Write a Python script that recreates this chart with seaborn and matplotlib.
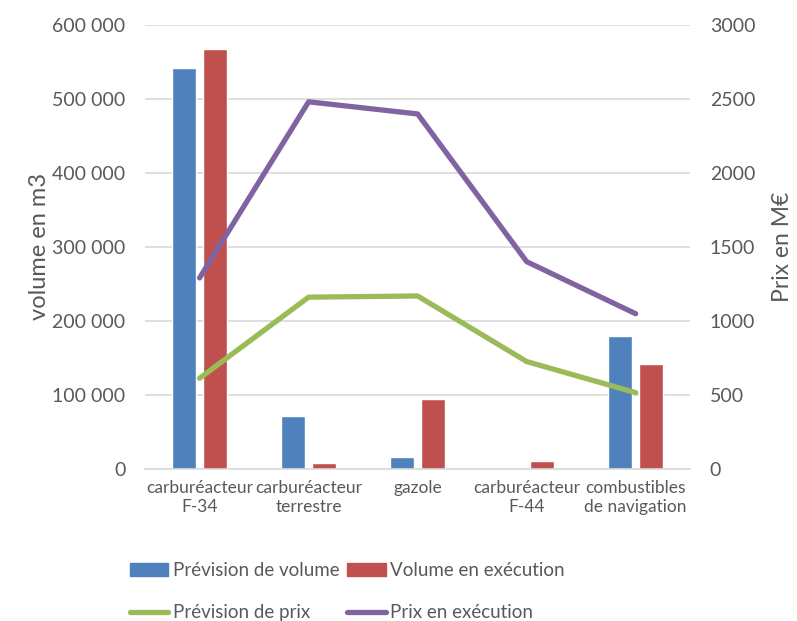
import matplotlib
matplotlib.use("Agg")
import matplotlib.pyplot as plt
from matplotlib.ticker import FuncFormatter
from matplotlib.patches import Patch
from matplotlib.lines import Line2D
import seaborn as sns
import pandas as pd

# Fuel categories (tick labels wrap onto two lines)
categories = [
    "carburéacteur\nF-34",
    "carburéacteur\nterrestre",
    "gazole",
    "carburéacteur\nF-44",
    "combustibles\nde navigation",
]

# Volumes in m3 (left axis)
prevision_volume = [542000, 72000, 16000, 0, 179000]
volume_execution = [568000, 8500, 95000, 10500, 141500]

# Prices in M€ (right axis)
prevision_prix = [612, 1160, 1168, 725, 515]
prix_execution = [1290, 2480, 2398, 1400, 1048]

vol_labels = ["Prévision de volume", "Volume en exécution"]
prix_labels = ["Prévision de prix", "Prix en exécution"]

c_blue, c_red = "#4F81BD", "#C0504D"
c_green, c_purple = "#9BBB59", "#8064A2"
text_col = "#595959"
grid_col = "#D9D9D9"

sns.set_theme(style="white")
plt.rcParams["font.family"] = ["Lato", "DejaVu Sans"]

vol_df = pd.DataFrame({
    "categorie": categories * 2,
    "volume": prevision_volume + volume_execution,
    "serie": [vol_labels[0]] * 5 + [vol_labels[1]] * 5,
})
prix_df = pd.DataFrame({
    "categorie": categories * 2,
    "prix": prevision_prix + prix_execution,
    "serie": [prix_labels[0]] * 5 + [prix_labels[1]] * 5,
})

fig = plt.figure(figsize=(7.97, 6.21), dpi=100)
ax = fig.add_axes([0.182, 0.245, 0.684, 0.715])

sns.barplot(data=vol_df, x="categorie", y="volume", hue="serie",
            hue_order=vol_labels, palette=[c_blue, c_red],
            width=0.57, gap=0.22, saturation=1, ax=ax, legend=False)

ax.set_ylim(0, 600000)
ax.set_xlim(-0.5, 4.5)
ax.set_yticks(range(0, 600001, 100000))
ax.yaxis.set_major_formatter(
    FuncFormatter(lambda v, p: f"{int(v):,}".replace(",", " ")))
ax.grid(axis="y", color=grid_col, linewidth=1.2)
ax.set_axisbelow(True)
for s in ["top", "left", "right"]:
    ax.spines[s].set_visible(False)
ax.spines["bottom"].set_color(grid_col)
ax.spines["bottom"].set_linewidth(1.2)
ax.tick_params(axis="y", length=0, labelsize=14, labelcolor=text_col, pad=14)
ax.tick_params(axis="x", length=0, labelsize=12.5, labelcolor=text_col, pad=8)
ax.set_xlabel("")
ax.set_ylabel("volume en m3", fontsize=17, color=text_col, labelpad=2)

ax2 = ax.twinx()
sns.lineplot(data=prix_df, x="categorie", y="prix", hue="serie",
             hue_order=prix_labels, palette=[c_green, c_purple],
             linewidth=3.8, ax=ax2, legend=False, sort=False)
for ln in ax2.get_lines():
    ln.set_solid_capstyle("round")
    ln.set_solid_joinstyle("round")
ax2.set_ylim(0, 3000)
ax2.set_xlim(-0.5, 4.5)
ax2.set_yticks(range(0, 3001, 500))
for s in ax2.spines.values():
    s.set_visible(False)
ax2.grid(False)
ax2.tick_params(axis="y", length=0, labelsize=14, labelcolor=text_col, pad=14)
ax2.set_ylabel("Prix en M€", fontsize=16.5, color=text_col, labelpad=12)
ax2.set_xlabel("")

handles = [
    Patch(color=c_blue, label=vol_labels[0]),
    Line2D([], [], color=c_green, linewidth=3.8, solid_capstyle="round",
           label=prix_labels[0]),
    Patch(color=c_red, label=vol_labels[1]),
    Line2D([], [], color=c_purple, linewidth=3.8, solid_capstyle="round",
           label=prix_labels[1]),
]
leg = fig.legend(handles=handles, ncol=2, loc="upper left",
                 bbox_to_anchor=(0.163, 0.095), frameon=False,
                 fontsize=13.5, handlelength=2.05, handleheight=0.75,
                 handletextpad=0.25, columnspacing=0.4, labelspacing=1.35,
                 borderaxespad=0, borderpad=0)
for t in leg.get_texts():
    t.set_color(text_col)

fig.savefig("out.png", dpi=100)
